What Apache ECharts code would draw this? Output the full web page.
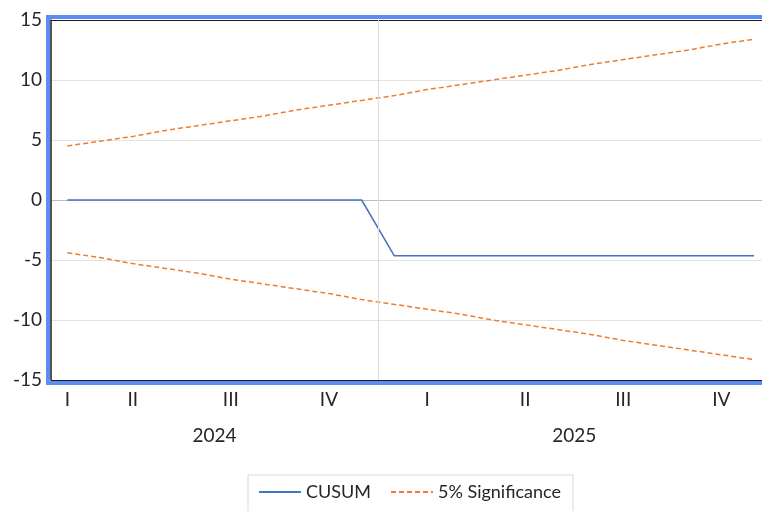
<!DOCTYPE html>
<html>
<head>
    <meta charset="utf-8">
    <style>
        html, body { margin: 0; padding: 0; background: #fff; }
        #container { width: 762px; height: 511px; }
    </style>
</head>
<body>
    <div id="container"></div>
    <script src="https://cdn.jsdelivr.net/npm/echarts@6/dist/echarts.min.js"></script>
    <script type="text/javascript">
        // monthly observations, Mar 2024 - Dec 2025
        var months = ['2024-03', '2024-04', '2024-05', '2024-06', '2024-07', '2024-08', '2024-09', '2024-10', '2024-11', '2024-12',
            '2025-01', '2025-02', '2025-03', '2025-04', '2025-05', '2025-06', '2025-07', '2025-08', '2025-09', '2025-10', '2025-11', '2025-12'];
        var cusum = [0, 0, 0, 0, 0, 0, 0, 0, 0, 0,
            -4.65, -4.65, -4.65, -4.65, -4.65, -4.65, -4.65, -4.65, -4.65, -4.65, -4.65, -4.65];
        var upper = [4.5, 4.9, 5.3, 5.8, 6.2, 6.6, 7.0, 7.5, 7.9, 8.3, 8.7,
            9.2, 9.6, 10.0, 10.4, 10.8, 11.3, 11.7, 12.1, 12.5, 13.0, 13.4];
        var lower = [-4.4, -4.8, -5.3, -5.7, -6.1, -6.6, -7.0, -7.4, -7.8, -8.3, -8.7,
            -9.1, -9.5, -10.0, -10.4, -10.8, -11.2, -11.7, -12.1, -12.5, -12.9, -13.3];
        var quarterNames = ['I', 'II', 'III', 'IV'];

        var font = 'Lato';
        var textColor = '#262626';

        // group months into quarters and years to place the two label rows
        function groups(keyFn) {
            var out = [];
            months.forEach(function (m, i) {
                var k = keyFn(m);
                var last = out[out.length - 1];
                if (last && last.key === k) { last.end = i + 1; }
                else { out.push({ key: k, start: i, end: i + 1 }); }
            });
            return out;
        }
        var quarterGroups = groups(function (m) {
            return m.slice(0, 4) + 'Q' + Math.floor((+m.slice(5) - 1) / 3);
        });
        var yearGroups = groups(function (m) { return m.slice(0, 4); });

        var quarterAt = {};
        quarterGroups.forEach(function (g) {
            var mid = g.start + Math.floor((g.end - g.start - 1) / 2);
            quarterAt[mid] = quarterNames[+g.key.slice(5)];
        });
        var yearAt = {};
        yearGroups.forEach(function (g) {
            yearAt[(g.start + g.end) / 2] = g.key;
        });
        // vertical separators at the start of each new year
        var yearBreaks = yearGroups.slice(1).map(function (g) { return { xAxis: g.start }; });

        var myChart = echarts.init(document.getElementById('container'), null, { renderer: 'canvas' });

        var option = {
            animation: false,
            textStyle: { fontFamily: font },
            grid: [
                {
                    left: 51, top: 20, width: 719.4, height: 360,
                    outerBoundsMode: 'none',
                    show: false
                },
                {
                    // blue frame around the plot area
                    left: 48, top: 17, width: 725.4, height: 366,
                    outerBoundsMode: 'none',
                    show: true, borderColor: '#5b8ef0', borderWidth: 4
                }
            ],
            xAxis: [
                {
                    type: 'category',
                    gridIndex: 0,
                    data: months,
                    boundaryGap: true,
                    axisLine: { show: false },
                    axisTick: { show: false },
                    splitLine: { show: false },
                    axisLabel: {
                        interval: 0,
                        margin: 10,
                        fontSize: 19,
                        color: textColor,
                        fontFamily: font,
                        formatter: function (v, i) { return quarterAt[i] || ''; }
                    }
                },
                {
                    type: 'value',
                    gridIndex: 0,
                    position: 'bottom',
                    offset: 38,
                    min: 0,
                    max: months.length,
                    interval: 1,
                    axisLine: { show: false },
                    axisTick: { show: false },
                    splitLine: { show: false },
                    axisLabel: {
                        fontSize: 19,
                        color: textColor,
                        fontFamily: font,
                        formatter: function (v) { return yearAt[v] || ''; }
                    }
                },
                { type: 'value', gridIndex: 1, show: false }
            ],
            yAxis: [
                {
                    type: 'value',
                    gridIndex: 0,
                    min: -15,
                    max: 15,
                    interval: 5,
                    axisLine: { show: true, onZero: false, lineStyle: { color: '#1a1a1a', width: 1.5 } },
                    axisTick: { show: false },
                    axisLabel: { margin: 9, fontSize: 19, color: textColor, fontFamily: font },
                    splitLine: {
                        lineStyle: {
                            color: ['#1a1a1a', '#e3e3e3', '#e3e3e3', '#bcbcbc', '#e3e3e3', '#e3e3e3', '#1a1a1a'],
                            width: 1.2
                        }
                    }
                },
                { type: 'value', gridIndex: 1, show: false }
            ],
            legend: {
                left: 248,
                top: 475,
                padding: [8, 12, 20, 10],
                borderColor: '#d9d9d9',
                borderWidth: 1,
                itemWidth: 42,
                itemHeight: 12,
                itemGap: 19,
                itemStyle: { opacity: 0 },
                textStyle: { fontSize: 18, color: textColor, fontFamily: font },
                data: ['CUSUM', '5% Significance']
            },
            series: [
                {
                    // carries only the year separator line, on the month-count axis
                    type: 'line',
                    xAxisIndex: 1,
                    data: [],
                    silent: true,
                    markLine: {
                        symbol: 'none',
                        silent: true,
                        label: { show: false },
                        lineStyle: { color: '#dcdcdc', width: 1, type: 'solid' },
                        data: yearBreaks
                    },
                    z: 1
                },
                {
                    name: 'CUSUM',
                    type: 'line',
                    data: cusum,
                    symbol: 'none',
                    lineStyle: { color: '#4472c4', width: 1.5 },
                    itemStyle: { color: '#4472c4' },
                    z: 3
                },
                {
                    name: '5% Significance',
                    type: 'line',
                    data: upper,
                    symbol: 'none',
                    lineStyle: { color: '#ed7d31', width: 1.5, type: [5, 3] },
                    itemStyle: { color: '#ed7d31' }
                },
                {
                    name: '5% Significance',
                    type: 'line',
                    data: lower,
                    symbol: 'none',
                    lineStyle: { color: '#ed7d31', width: 1.5, type: [5, 3] },
                    itemStyle: { color: '#ed7d31' }
                }
            ]
        };

        myChart.setOption(option);
        window.addEventListener('resize', myChart.resize);
    </script>
</body>
</html>
